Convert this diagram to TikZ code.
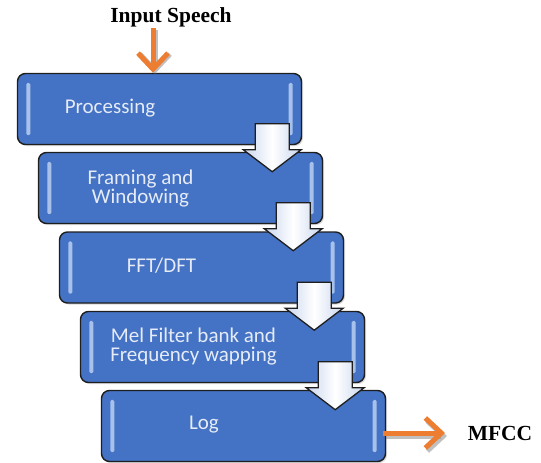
\documentclass[tikz,border=0pt]{standalone}
\usepackage{fontspec}
\setmainfont{Liberation Serif}
\newfontfamily\boxfont{Carlito}
\usetikzlibrary{arrows.meta,calc,shadows}
\definecolor{boxblue}{HTML}{4472C4}
\definecolor{boxtext}{HTML}{E6ECF7}
\definecolor{orangearrow}{HTML}{ED7D31}
\definecolor{arrowfill}{HTML}{C9D6EE}
\definecolor{edgeline}{HTML}{1E1E1E}
\definecolor{glint}{HTML}{B9D0F2}
\begin{document}
\begin{tikzpicture}[x=1pt,y=-1pt,
  stagebox/.style={draw=edgeline, line width=1.4pt, fill=boxblue, rounded corners=8pt,
    minimum width=284pt, minimum height=71pt, inner sep=0pt,
    drop shadow={opacity=0.3, shadow xshift=1.5pt, shadow yshift=-1.5pt}},
  stagetext/.style={text=boxtext, font=\boxfont\fontsize{21}{19}\selectfont, align=center, inner sep=0pt},
  labeltext/.style={font=\bfseries\fontsize{21.5}{22}\selectfont, inner sep=0pt},
  glintstrip/.style={fill=glint, rounded corners=1.5pt, opacity=0.85},
  flowarrow/.style={draw=edgeline, line width=1.3pt, line join=miter,
    left color=arrowfill, right color=arrowfill, middle color=white},
  orangeline/.style={draw=orangearrow, line width=5pt, -{Straight Barb[length=16pt,width=30pt]}},
  orangeshade/.style={draw=black!45, opacity=0.55, line width=5pt, -{Straight Barb[length=16pt,width=30pt]}}
]
\useasboundingbox (0,0) rectangle (541,463);

% boxes
\node[stagebox] (b1) at (159.5,109) {};
\node[stagebox] (b2) at (180.5,188) {};
\node[stagebox] (b3) at (201.5,267.5) {};
\node[stagebox] (b4) at (222.5,347) {};
\node[stagebox] (b5) at (243.5,426) {};

% edge highlights
\foreach \b in {b1,b2,b3,b4,b5} {
  \fill[glintstrip] ($(\b.north west)+(9.5,10)$) rectangle ($(\b.south west)+(13.5,-10)$);
  \fill[glintstrip] ($(\b.north east)+(-13.5,10)$) rectangle ($(\b.south east)+(-9.5,-10)$);
}

% block arrows between stages
\foreach \a in {b1,b2,b3,b4} {
  \coordinate (tip) at ($(\a.south east)+(-30,26.5)$);
  \draw[flowarrow] ($(tip)+(-17,-48)$) -- ($(tip)+(17,-48)$) -- ($(tip)+(17,-22)$)
    -- ($(tip)+(29,-22)$) -- (tip) -- ($(tip)+(-29,-22)$) -- ($(tip)+(-17,-22)$) -- cycle;
}

% texts
\node[stagetext] (t1) at (110,108) {Processing};
\node[stagetext] (t2) at (140.5,188.5) {Framing and\\Windowing};
\node[stagetext] (t3) at (161.5,266) {FFT/DFT};
\node[stagetext] (t4) at (193.5,346.5) {Mel Filter bank and\\Frequency wapping};
\node[stagetext] (t5) at (204,425) {Log};

% input and output
\node[labeltext, anchor=base] (inp) at (171,23) {Input Speech};
\node[labeltext, anchor=base] (out) at (500,440) {MFCC};
\coordinate (instart) at (153,28);
\coordinate (outend) at (445,433);
\draw[orangeshade] ($(instart)+(2,2)$) -- ($(instart |- b1.north)+(2,1)$);
\draw[orangeline] (instart) -- (instart |- b1.north);
\draw[orangeshade] ($(b5.east |- outend)+(0,3)$) -- ($(outend)+(2,3)$);
\draw[orangeline] ($(b5.east |- outend)+(-3,0)$) -- (outend);
\end{tikzpicture}
\end{document}
